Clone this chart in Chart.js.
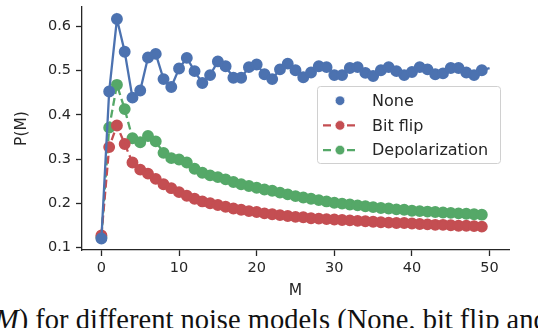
<!DOCTYPE html>
<html>
<head>
<meta charset="utf-8">
<script src="https://cdn.jsdelivr.net/npm/chart.js@4/dist/chart.umd.min.js"></script>
<style>
    body { margin: 0; width: 538px; height: 328px; overflow: hidden; background: #fff; position: relative; }
    #wrap { position: absolute; left: 0; top: 0; width: 538px; height: 300px; }
    #caption {
        position: absolute; left: -5px; top: 304px; white-space: nowrap;
        font-family: "Liberation Serif", serif; font-size: 28.5px; line-height: 32px; color: #111;
    }
</style>
</head>
<body>
<div id="wrap"><canvas id="pmChart" width="538" height="300"></canvas></div>
<div id="caption"><i>M</i>) for different noise models (None, bit flip and depolarization)</div>

<script>
// M values and P(M)
const mValues = [0, 1, 2, 3, 4, 5, 6, 7, 8, 9, 10, 11, 12, 13, 14, 15, 16, 17, 18, 19,
    20, 21, 22, 23, 24, 25, 26, 27, 28, 29, 30, 31, 32, 33, 34, 35, 36, 37, 38, 39,
    40, 41, 42, 43, 44, 45, 46, 47, 48, 49, 50];

const noneValues = [0.120, 0.453, 0.617, 0.543, 0.439, 0.455, 0.530, 0.538, 0.481, 0.463,
    0.505, 0.529, 0.499, 0.472, 0.490, 0.521, 0.510, 0.484, 0.484, 0.508,
    0.514, 0.492, 0.481, 0.503, 0.516, 0.501, 0.485, 0.496, 0.510, 0.508,
    0.490, 0.490, 0.506, 0.508, 0.495, 0.488, 0.501, 0.508, 0.499, 0.490,
    0.497, 0.508, 0.503, 0.492, 0.494, 0.506, 0.506, 0.496, 0.490, 0.501,
    0.506];

const bitFlipValues = [0.127, 0.327, 0.376, 0.334, 0.292, 0.276, 0.267, 0.255, 0.243, 0.234,
    0.225, 0.217, 0.210, 0.204, 0.200, 0.196, 0.192, 0.188, 0.185, 0.182,
    0.180, 0.177, 0.175, 0.173, 0.171, 0.169, 0.168, 0.166, 0.165, 0.164,
    0.163, 0.162, 0.161, 0.160, 0.159, 0.158, 0.157, 0.156, 0.155, 0.155,
    0.154, 0.153, 0.152, 0.151, 0.151, 0.150, 0.149, 0.149, 0.148, 0.147];

const depolValues = [0.123, 0.371, 0.468, 0.413, 0.347, 0.338, 0.352, 0.340, 0.314, 0.302,
    0.299, 0.292, 0.278, 0.269, 0.263, 0.259, 0.254, 0.248, 0.243, 0.239,
    0.235, 0.231, 0.228, 0.224, 0.220, 0.216, 0.213, 0.210, 0.207, 0.204,
    0.201, 0.199, 0.197, 0.195, 0.193, 0.191, 0.189, 0.188, 0.186, 0.185,
    0.183, 0.182, 0.181, 0.180, 0.179, 0.178, 0.177, 0.176, 0.175, 0.174];

const seriesNames = ["None", "Bit flip", "Depolarization"];
const xTicks = [0, 10, 20, 30, 40, 50];
const yTicks = [0.1, 0.2, 0.3, 0.4, 0.5, 0.6];

const ink = "#262626";
const tickFont = { family: "DejaVu Sans", size: 14.5 };

function toPoints(values) {
    return values.map((v, i) => ({ x: mValues[i], y: v }));
}

// legend box drawn inside the plot, like the matplotlib one
const boxLegend = {
    id: "boxLegend",
    afterDraw(chart) {
        const ctx = chart.ctx;
        const x0 = 317, y0 = 86, w = 183, h = 77;
        ctx.save();
        ctx.fillStyle = "rgba(255,255,255,0.85)";
        ctx.strokeStyle = "#d0d0d0";
        ctx.lineWidth = 1;
        ctx.beginPath();
        ctx.roundRect(x0 + 0.5, y0 + 0.5, w, h, 3);
        ctx.fill();
        ctx.stroke();

        chart.data.datasets.forEach((ds, i) => {
            const y = y0 + 14.7 + i * 24.7;
            if (ds.showLegendLine) {
                ctx.strokeStyle = ds.borderColor;
                ctx.lineWidth = ds.borderWidth;
                ctx.setLineDash(ds.borderDash || []);
                ctx.beginPath();
                ctx.moveTo(323, y);
                ctx.lineTo(357, y);
                ctx.stroke();
                ctx.setLineDash([]);
            }
            ctx.fillStyle = ds.backgroundColor;
            ctx.strokeStyle = "rgba(255,255,255,0.85)";
            ctx.lineWidth = 0.8;
            ctx.beginPath();
            ctx.arc(340, y, 4.8, 0, Math.PI * 2);
            ctx.fill();
            ctx.stroke();

            ctx.fillStyle = ink;
            ctx.font = "16px 'DejaVu Sans'";
            ctx.textBaseline = "middle";
            ctx.fillText(ds.label, 372, y + 1);
        });
        ctx.restore();
    }
};

const ctx1 = document.getElementById("pmChart").getContext("2d");
new Chart(ctx1, {
    type: "line",
    data: {
        datasets: [{
            label: seriesNames[0],
            data: toPoints(noneValues),
            borderColor: "#4C72B0",
            backgroundColor: "#4C72B0",
            borderWidth: 2.3,
            pointRadius: c => (c.dataIndex === noneValues.length - 1 ? 0 : 4.8),
            showLegendLine: false
        }, {
            label: seriesNames[1],
            data: toPoints(bitFlipValues),
            borderColor: "#C44E52",
            backgroundColor: "#C44E52",
            borderWidth: 2.3,
            borderDash: [8, 4],
            pointRadius: 4.8,
            showLegendLine: true
        }, {
            label: seriesNames[2],
            data: toPoints(depolValues),
            borderColor: "#55A868",
            backgroundColor: "#55A868",
            borderWidth: 2.3,
            borderDash: [8, 4],
            pointRadius: 4.8,
            showLegendLine: true
        }]
    },
    options: {
        responsive: false,
        animation: false,
        layout: { padding: { top: 0, right: 29, bottom: 0, left: 0 } },
        elements: {
            line: { tension: 0 },
            point: { borderColor: "rgba(255,255,255,0.85)", borderWidth: 0.8, hoverRadius: 4.8 }
        },
        datasets: { line: { clip: false } },
        plugins: {
            legend: { display: false },
            tooltip: { enabled: false }
        },
        scales: {
            x: {
                type: "linear",
                min: -2.5,
                max: 52.5,
                afterBuildTicks: axis => { axis.ticks = xTicks.map(v => ({ value: v })); },
                afterFit: axis => {
                    axis.height = 50;
                    axis.paddingLeft = 0;
                    axis.paddingRight = 0;
                },
                grid: { drawOnChartArea: false, drawTicks: true, tickLength: 6, tickWidth: 1.3, tickColor: ink },
                border: { display: true, color: ink, width: 1.3 },
                ticks: { font: tickFont, color: ink, padding: 4, maxRotation: 0 },
                title: { display: true, text: "M", color: ink, font: { family: "DejaVu Sans", size: 15.5 }, padding: 0 }
            },
            y: {
                type: "linear",
                min: 0.094,
                max: 0.644,
                afterBuildTicks: axis => { axis.ticks = yTicks.map(v => ({ value: v })); },
                afterFit: axis => {
                    axis.width = 82;
                    axis.paddingTop = 0;
                    axis.paddingBottom = 0;
                },
                grid: { drawOnChartArea: false, drawTicks: true, tickLength: 6, tickWidth: 1.3, tickColor: ink },
                border: { display: true, color: ink, width: 1.3 },
                ticks: { font: tickFont, color: ink, padding: 5, callback: v => v.toFixed(1) },
                title: { display: true, text: "P(M)", color: ink, font: { family: "DejaVu Sans", size: 15.5 }, padding: { top: 13, bottom: 0 } }
            }
        }
    },
    plugins: [boxLegend]
});
</script>
</body>
</html>
